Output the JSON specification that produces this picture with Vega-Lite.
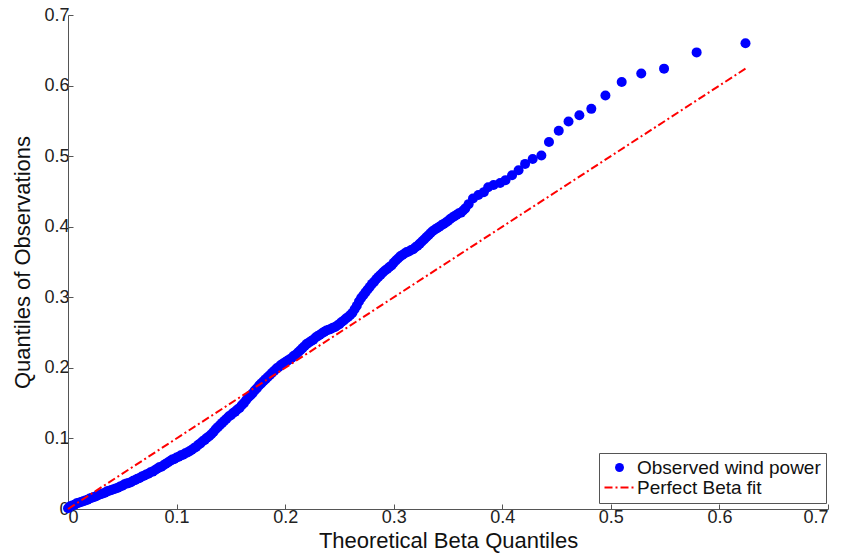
{
  "$schema": "https://vega.github.io/schema/vega-lite/v6.json",
  "width": 760,
  "height": 494,
  "autosize": {"type": "none"},
  "padding": {"left": 68, "top": 15, "right": 15, "bottom": 50},
  "background": "white",
  "config": {
    "view": {"stroke": null},
    "font": "Liberation Sans",
    "axis": {
      "grid": false,
      "domainColor": "#555555",
      "tickColor": "#555555",
      "tickSize": -5,
      "labelFont": "Liberation Sans",
      "labelFontSize": 18,
      "labelColor": "#222222",
      "titleFont": "Liberation Sans",
      "titleFontSize": 22,
      "titleFontWeight": "normal",
      "titleColor": "#111111"
    },
    "legend": {
      "labelFont": "Liberation Sans",
      "labelFontSize": 19,
      "labelColor": "#111111",
      "labelLimit": 0
    }
  },
  "datasets": {
    "observed": [
      {"theoretical": 0.000, "observed": 0.001},
      {"theoretical": 0.002, "observed": 0.004},
      {"theoretical": 0.004, "observed": 0.005},
      {"theoretical": 0.006, "observed": 0.006},
      {"theoretical": 0.008, "observed": 0.008},
      {"theoretical": 0.010, "observed": 0.009},
      {"theoretical": 0.012, "observed": 0.010},
      {"theoretical": 0.014, "observed": 0.011},
      {"theoretical": 0.016, "observed": 0.012},
      {"theoretical": 0.018, "observed": 0.013},
      {"theoretical": 0.020, "observed": 0.015},
      {"theoretical": 0.022, "observed": 0.016},
      {"theoretical": 0.024, "observed": 0.017},
      {"theoretical": 0.026, "observed": 0.018},
      {"theoretical": 0.028, "observed": 0.020},
      {"theoretical": 0.030, "observed": 0.021},
      {"theoretical": 0.032, "observed": 0.022},
      {"theoretical": 0.034, "observed": 0.023},
      {"theoretical": 0.036, "observed": 0.025},
      {"theoretical": 0.038, "observed": 0.026},
      {"theoretical": 0.040, "observed": 0.027},
      {"theoretical": 0.042, "observed": 0.028},
      {"theoretical": 0.044, "observed": 0.029},
      {"theoretical": 0.046, "observed": 0.030},
      {"theoretical": 0.048, "observed": 0.032},
      {"theoretical": 0.050, "observed": 0.033},
      {"theoretical": 0.052, "observed": 0.035},
      {"theoretical": 0.054, "observed": 0.036},
      {"theoretical": 0.056, "observed": 0.037},
      {"theoretical": 0.058, "observed": 0.038},
      {"theoretical": 0.060, "observed": 0.040},
      {"theoretical": 0.062, "observed": 0.041},
      {"theoretical": 0.064, "observed": 0.043},
      {"theoretical": 0.066, "observed": 0.044},
      {"theoretical": 0.068, "observed": 0.046},
      {"theoretical": 0.070, "observed": 0.047},
      {"theoretical": 0.072, "observed": 0.049},
      {"theoretical": 0.074, "observed": 0.050},
      {"theoretical": 0.076, "observed": 0.052},
      {"theoretical": 0.078, "observed": 0.053},
      {"theoretical": 0.080, "observed": 0.055},
      {"theoretical": 0.082, "observed": 0.057},
      {"theoretical": 0.084, "observed": 0.059},
      {"theoretical": 0.086, "observed": 0.060},
      {"theoretical": 0.088, "observed": 0.062},
      {"theoretical": 0.090, "observed": 0.064},
      {"theoretical": 0.092, "observed": 0.066},
      {"theoretical": 0.094, "observed": 0.068},
      {"theoretical": 0.096, "observed": 0.070},
      {"theoretical": 0.098, "observed": 0.071},
      {"theoretical": 0.100, "observed": 0.073},
      {"theoretical": 0.102, "observed": 0.074},
      {"theoretical": 0.104, "observed": 0.076},
      {"theoretical": 0.106, "observed": 0.077},
      {"theoretical": 0.108, "observed": 0.079},
      {"theoretical": 0.110, "observed": 0.080},
      {"theoretical": 0.112, "observed": 0.082},
      {"theoretical": 0.114, "observed": 0.084},
      {"theoretical": 0.116, "observed": 0.086},
      {"theoretical": 0.118, "observed": 0.088},
      {"theoretical": 0.120, "observed": 0.091},
      {"theoretical": 0.122, "observed": 0.093},
      {"theoretical": 0.124, "observed": 0.096},
      {"theoretical": 0.126, "observed": 0.098},
      {"theoretical": 0.128, "observed": 0.101},
      {"theoretical": 0.130, "observed": 0.103},
      {"theoretical": 0.132, "observed": 0.106},
      {"theoretical": 0.134, "observed": 0.109},
      {"theoretical": 0.136, "observed": 0.113},
      {"theoretical": 0.138, "observed": 0.116},
      {"theoretical": 0.140, "observed": 0.119},
      {"theoretical": 0.142, "observed": 0.122},
      {"theoretical": 0.144, "observed": 0.125},
      {"theoretical": 0.146, "observed": 0.128},
      {"theoretical": 0.148, "observed": 0.131},
      {"theoretical": 0.150, "observed": 0.133},
      {"theoretical": 0.152, "observed": 0.136},
      {"theoretical": 0.154, "observed": 0.138},
      {"theoretical": 0.156, "observed": 0.141},
      {"theoretical": 0.158, "observed": 0.143},
      {"theoretical": 0.160, "observed": 0.147},
      {"theoretical": 0.162, "observed": 0.150},
      {"theoretical": 0.164, "observed": 0.154},
      {"theoretical": 0.166, "observed": 0.158},
      {"theoretical": 0.168, "observed": 0.161},
      {"theoretical": 0.170, "observed": 0.164},
      {"theoretical": 0.172, "observed": 0.168},
      {"theoretical": 0.174, "observed": 0.171},
      {"theoretical": 0.176, "observed": 0.175},
      {"theoretical": 0.178, "observed": 0.178},
      {"theoretical": 0.180, "observed": 0.181},
      {"theoretical": 0.182, "observed": 0.184},
      {"theoretical": 0.184, "observed": 0.187},
      {"theoretical": 0.186, "observed": 0.190},
      {"theoretical": 0.188, "observed": 0.193},
      {"theoretical": 0.190, "observed": 0.196},
      {"theoretical": 0.192, "observed": 0.199},
      {"theoretical": 0.194, "observed": 0.201},
      {"theoretical": 0.196, "observed": 0.204},
      {"theoretical": 0.198, "observed": 0.206},
      {"theoretical": 0.200, "observed": 0.208},
      {"theoretical": 0.202, "observed": 0.210},
      {"theoretical": 0.204, "observed": 0.212},
      {"theoretical": 0.206, "observed": 0.214},
      {"theoretical": 0.208, "observed": 0.217},
      {"theoretical": 0.210, "observed": 0.219},
      {"theoretical": 0.212, "observed": 0.222},
      {"theoretical": 0.214, "observed": 0.225},
      {"theoretical": 0.216, "observed": 0.228},
      {"theoretical": 0.218, "observed": 0.231},
      {"theoretical": 0.220, "observed": 0.234},
      {"theoretical": 0.222, "observed": 0.236},
      {"theoretical": 0.224, "observed": 0.238},
      {"theoretical": 0.226, "observed": 0.240},
      {"theoretical": 0.228, "observed": 0.243},
      {"theoretical": 0.230, "observed": 0.245},
      {"theoretical": 0.232, "observed": 0.247},
      {"theoretical": 0.234, "observed": 0.249},
      {"theoretical": 0.236, "observed": 0.251},
      {"theoretical": 0.238, "observed": 0.253},
      {"theoretical": 0.240, "observed": 0.254},
      {"theoretical": 0.242, "observed": 0.255},
      {"theoretical": 0.244, "observed": 0.257},
      {"theoretical": 0.246, "observed": 0.258},
      {"theoretical": 0.248, "observed": 0.260},
      {"theoretical": 0.250, "observed": 0.262},
      {"theoretical": 0.252, "observed": 0.265},
      {"theoretical": 0.254, "observed": 0.267},
      {"theoretical": 0.256, "observed": 0.270},
      {"theoretical": 0.258, "observed": 0.272},
      {"theoretical": 0.260, "observed": 0.275},
      {"theoretical": 0.262, "observed": 0.278},
      {"theoretical": 0.264, "observed": 0.283},
      {"theoretical": 0.266, "observed": 0.288},
      {"theoretical": 0.268, "observed": 0.294},
      {"theoretical": 0.270, "observed": 0.299},
      {"theoretical": 0.272, "observed": 0.303},
      {"theoretical": 0.274, "observed": 0.307},
      {"theoretical": 0.276, "observed": 0.311},
      {"theoretical": 0.278, "observed": 0.315},
      {"theoretical": 0.280, "observed": 0.319},
      {"theoretical": 0.282, "observed": 0.322},
      {"theoretical": 0.284, "observed": 0.326},
      {"theoretical": 0.286, "observed": 0.329},
      {"theoretical": 0.288, "observed": 0.332},
      {"theoretical": 0.290, "observed": 0.335},
      {"theoretical": 0.292, "observed": 0.338},
      {"theoretical": 0.294, "observed": 0.340},
      {"theoretical": 0.296, "observed": 0.343},
      {"theoretical": 0.298, "observed": 0.345},
      {"theoretical": 0.300, "observed": 0.349},
      {"theoretical": 0.302, "observed": 0.352},
      {"theoretical": 0.304, "observed": 0.355},
      {"theoretical": 0.306, "observed": 0.358},
      {"theoretical": 0.308, "observed": 0.360},
      {"theoretical": 0.310, "observed": 0.362},
      {"theoretical": 0.312, "observed": 0.364},
      {"theoretical": 0.314, "observed": 0.365},
      {"theoretical": 0.316, "observed": 0.367},
      {"theoretical": 0.318, "observed": 0.368},
      {"theoretical": 0.320, "observed": 0.371},
      {"theoretical": 0.322, "observed": 0.373},
      {"theoretical": 0.324, "observed": 0.376},
      {"theoretical": 0.326, "observed": 0.379},
      {"theoretical": 0.328, "observed": 0.382},
      {"theoretical": 0.330, "observed": 0.385},
      {"theoretical": 0.332, "observed": 0.388},
      {"theoretical": 0.334, "observed": 0.391},
      {"theoretical": 0.336, "observed": 0.394},
      {"theoretical": 0.338, "observed": 0.396},
      {"theoretical": 0.340, "observed": 0.398},
      {"theoretical": 0.342, "observed": 0.400},
      {"theoretical": 0.344, "observed": 0.402},
      {"theoretical": 0.346, "observed": 0.404},
      {"theoretical": 0.348, "observed": 0.406},
      {"theoretical": 0.350, "observed": 0.408},
      {"theoretical": 0.352, "observed": 0.411},
      {"theoretical": 0.354, "observed": 0.413},
      {"theoretical": 0.356, "observed": 0.415},
      {"theoretical": 0.358, "observed": 0.417},
      {"theoretical": 0.360, "observed": 0.419},
      {"theoretical": 0.362, "observed": 0.420},
      {"theoretical": 0.364, "observed": 0.423},
      {"theoretical": 0.366, "observed": 0.426},
      {"theoretical": 0.369, "observed": 0.432},
      {"theoretical": 0.373, "observed": 0.440},
      {"theoretical": 0.378, "observed": 0.445},
      {"theoretical": 0.383, "observed": 0.449},
      {"theoretical": 0.387, "observed": 0.456},
      {"theoretical": 0.392, "observed": 0.459},
      {"theoretical": 0.398, "observed": 0.462},
      {"theoretical": 0.403, "observed": 0.466},
      {"theoretical": 0.409, "observed": 0.473},
      {"theoretical": 0.415, "observed": 0.480},
      {"theoretical": 0.421, "observed": 0.489},
      {"theoretical": 0.428, "observed": 0.496},
      {"theoretical": 0.436, "observed": 0.501},
      {"theoretical": 0.443, "observed": 0.520},
      {"theoretical": 0.452, "observed": 0.536},
      {"theoretical": 0.461, "observed": 0.549},
      {"theoretical": 0.471, "observed": 0.558},
      {"theoretical": 0.482, "observed": 0.567},
      {"theoretical": 0.495, "observed": 0.586},
      {"theoretical": 0.510, "observed": 0.605},
      {"theoretical": 0.528, "observed": 0.617},
      {"theoretical": 0.549, "observed": 0.624},
      {"theoretical": 0.579, "observed": 0.647},
      {"theoretical": 0.624, "observed": 0.660}
    ],
    "fit": [
      {"theoretical": 0.0, "observed": 0.0},
      {"theoretical": 0.624, "observed": 0.624}
    ]
  },
  "encoding": {
    "x": {
      "field": "theoretical",
      "type": "quantitative",
      "title": "Theoretical Beta Quantiles",
      "scale": {"domain": [0, 0.7], "nice": false, "zero": false},
      "axis": {
        "values": [0, 0.1, 0.2, 0.3, 0.4, 0.5, 0.6, 0.7],
        "format": ".1~f",
        "labelPadding": 4,
        "titlePadding": 4
      }
    },
    "y": {
      "field": "observed",
      "type": "quantitative",
      "title": "Quantiles of Observations",
      "scale": {"domain": [0, 0.7], "nice": false, "zero": false},
      "axis": {
        "values": [0, 0.1, 0.2, 0.3, 0.4, 0.5, 0.6, 0.7],
        "format": ".1~f",
        "labelPadding": 4,
        "titlePadding": 9
      }
    },
    "color": {
      "field": "series",
      "type": "nominal",
      "scale": {
        "domain": ["Observed wind power", "Perfect Beta fit"],
        "range": ["#0000ff", "#ff0000"]
      },
      "legend": {
        "title": null,
        "orient": "none",
        "legendX": 531,
        "legendY": 438,
        "padding": 5,
        "rowPadding": 0,
        "symbolOffset": 6,
        "labelOffset": 8,
        "symbolSize": 2000,
        "strokeColor": "#555555",
        "fillColor": "white",
        "encode": {
          "symbols": {
            "update": {
              "shape": {"signal": "datum.value === 'Perfect Beta fit' ? 'stroke' : 'circle'"},
              "size": {"signal": "datum.value === 'Perfect Beta fit' ? 900 : 80"},
              "fill": {"signal": "datum.value === 'Perfect Beta fit' ? 'transparent' : '#0000ff'"},
              "stroke": {"signal": "datum.value === 'Perfect Beta fit' ? '#ff0000' : 'transparent'"},
              "strokeWidth": {"signal": "datum.value === 'Perfect Beta fit' ? 2 : 0"},
              "strokeDash": {"signal": "datum.value === 'Perfect Beta fit' ? [8, 3, 2, 3] : [1, 0]"},
              "opacity": {"value": 1}
            }
          }
        }
      }
    }
  },
  "layer": [
    {
      "data": {"name": "observed"},
      "transform": [{"calculate": "'Observed wind power'", "as": "series"}],
      "mark": {"type": "point", "shape": "circle", "filled": true, "size": 100, "opacity": 1}
    },
    {
      "data": {"name": "fit"},
      "transform": [{"calculate": "'Perfect Beta fit'", "as": "series"}],
      "mark": {"type": "line", "strokeWidth": 2, "strokeDash": [8, 3, 2, 3]}
    }
  ]
}
